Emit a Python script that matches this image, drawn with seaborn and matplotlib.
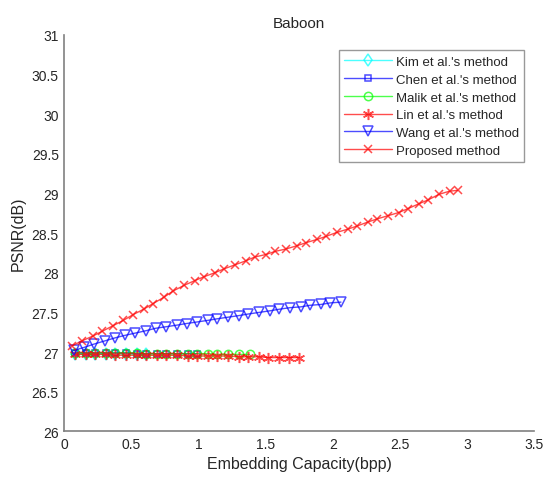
import pandas as pd
import matplotlib
matplotlib.use("Agg")
import matplotlib.pyplot as plt
import seaborn as sns

# data
kim_x = [0.08, 0.16, 0.23, 0.31, 0.38, 0.46, 0.54, 0.61]
kim_y = [26.98, 26.98, 26.98, 26.98, 26.98, 26.98, 26.97, 26.97]

chen_x = [0.08, 0.16, 0.23, 0.31, 0.38, 0.46, 0.54, 0.61, 0.69, 0.76, 0.84, 0.92, 0.99]
chen_y = [26.99, 26.99, 26.99, 26.99, 26.99, 26.99, 26.98, 26.98, 26.98, 26.98, 26.98, 26.98, 26.98]

malik_x = [0.08, 0.16, 0.23, 0.31, 0.38, 0.46, 0.54, 0.61, 0.69, 0.76, 0.84, 0.92,
           0.99, 1.07, 1.14, 1.22, 1.30, 1.38]
malik_y = [26.99, 26.99, 26.99, 26.99, 26.99, 26.99, 26.99, 26.98, 26.98, 26.98, 26.98, 26.98,
           26.98, 26.98, 26.97, 26.97, 26.97, 26.97]

lin_x = [0.08, 0.16, 0.23, 0.31, 0.38, 0.46, 0.54, 0.61, 0.69, 0.76, 0.84, 0.92,
         0.99, 1.07, 1.14, 1.22, 1.30, 1.37, 1.45, 1.52, 1.60, 1.67, 1.75]
lin_y = [26.97, 26.97, 26.97, 26.97, 26.96, 26.96, 26.96, 26.96, 26.96, 26.96, 26.96, 26.95,
         26.95, 26.95, 26.95, 26.95, 26.94, 26.94, 26.94, 26.93, 26.93, 26.93, 26.93]

wang_x = [0.07, 0.15, 0.22, 0.30, 0.38, 0.45, 0.53, 0.61, 0.68, 0.76, 0.84, 0.91, 0.99, 1.07,
          1.14, 1.22, 1.30, 1.37, 1.45, 1.53, 1.60, 1.68, 1.76, 1.83, 1.91, 1.98, 2.06]
wang_y = [27.02, 27.06, 27.10, 27.14, 27.18, 27.21, 27.24, 27.27, 27.30, 27.32, 27.34, 27.36,
          27.38, 27.40, 27.42, 27.44, 27.46, 27.48, 27.50, 27.52, 27.54, 27.56, 27.57, 27.59,
          27.60, 27.62, 27.63]

prop_x = [0.06, 0.13, 0.21, 0.28, 0.36, 0.44, 0.51, 0.59, 0.66, 0.74, 0.81, 0.89, 0.97,
          1.04, 1.12, 1.19, 1.27, 1.35, 1.42, 1.50, 1.57, 1.65, 1.73, 1.80, 1.88, 1.95,
          2.03, 2.11, 2.18, 2.26, 2.33, 2.41, 2.49, 2.56, 2.64, 2.71, 2.79, 2.87, 2.93]
prop_y = [27.08, 27.14, 27.20, 27.26, 27.33, 27.40, 27.47, 27.54, 27.61, 27.69, 27.77, 27.84,
          27.90, 27.95, 28.00, 28.05, 28.10, 28.15, 28.20, 28.23, 28.27, 28.30, 28.34, 28.38,
          28.42, 28.46, 28.51, 28.55, 28.59, 28.64, 28.68, 28.72, 28.76, 28.81, 28.87, 28.92,
          28.99, 29.03, 29.04]

x_ticks = [0, 0.5, 1, 1.5, 2, 2.5, 3, 3.5]
y_ticks = [26, 26.5, 27, 27.5, 28, 28.5, 29, 29.5, 30, 30.5, 31]

sns.set_style("white")
plt.rcParams['font.family'] = ['Liberation Sans', 'DejaVu Sans']

fig = plt.figure(figsize=(5.46, 4.81), dpi=100)
ax = fig.add_axes([0.1178, 0.1012, 0.8608, 0.824])

asterisk = (6, 2, 0)
series = [
    ("Kim et al.'s method", kim_x, kim_y, '#00ffff', 'd', 6),
    ("Chen et al.'s method", chen_x, chen_y, '#0000ff', 's', 5),
    ("Malik et al.'s method", malik_x, malik_y, '#00ff00', 'o', 6),
    ("Lin et al.'s method", lin_x, lin_y, '#ff0000', asterisk, 8),
    ("Wang et al.'s method", wang_x, wang_y, '#0000ff', 'v', 6.5),
    ("Proposed method", prop_x, prop_y, '#ff0000', 'x', 5.5),
]

for name, xs, ys, col, mk, ms in series:
    df = pd.DataFrame({'x': xs, 'y': ys})
    filled = mk in ('x', asterisk)
    sns.lineplot(data=df, x='x', y='y', ax=ax, color=col, marker=mk,
                 markersize=ms, mfc=col if filled else 'none',
                 mec=col, mew=1.1, lw=1.0, label=name, alpha=0.7)

ax.set_xlim(0, 3.5)
ax.set_ylim(26, 31)
ax.set_xticks(x_ticks)
ax.set_xticklabels([f"{t:g}" for t in x_ticks])
ax.set_yticks(y_ticks)
ax.set_yticklabels([f"{t:g}" for t in y_ticks])
ax.tick_params(direction='in', length=3, width=1, color='#808080',
               labelcolor='#262626', labelsize=10, pad=4)
for side in ['top', 'right']:
    ax.spines[side].set_visible(False)
for side in ['left', 'bottom']:
    ax.spines[side].set_color('#808080')
    ax.spines[side].set_linewidth(1.2)

ax.set_title('Baboon', fontsize=11, color='#262626', pad=6)
ax.set_xlabel('Embedding Capacity(bpp)', fontsize=11.5, color='#262626', labelpad=4)
ax.set_ylabel('PSNR(dB)', fontsize=11.5, color='#262626', labelpad=4)

leg = ax.legend(loc='upper right', bbox_to_anchor=(0.978, 0.961), fontsize=9.5,
                frameon=True, fancybox=False, edgecolor='#808080',
                handlelength=3.6, borderpad=0.4, labelspacing=0.42,
                handletextpad=0.3, borderaxespad=0)
leg.get_frame().set_linewidth(1.0)

fig.savefig('out.png', dpi=100)
